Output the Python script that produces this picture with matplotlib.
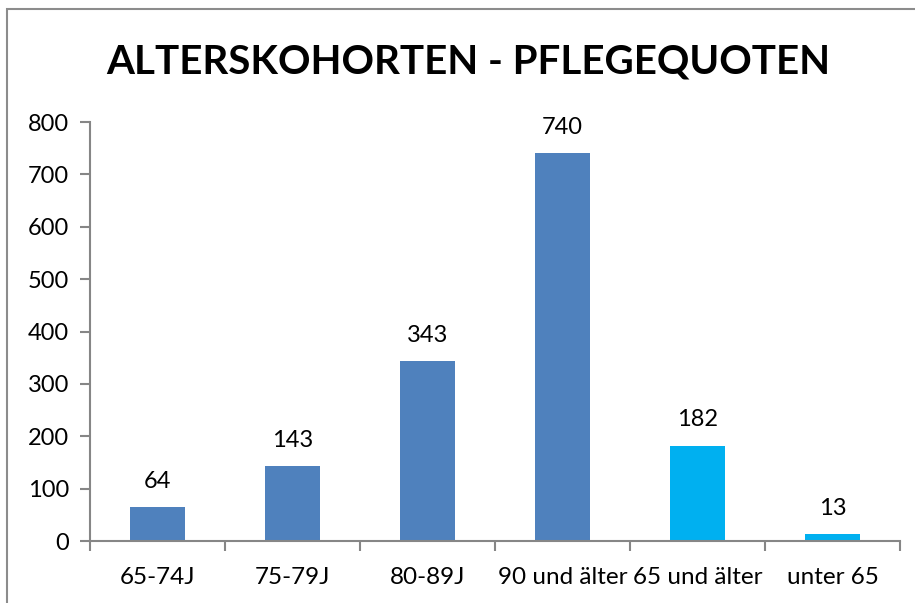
import matplotlib
matplotlib.use("Agg")
import matplotlib.pyplot as plt
from matplotlib.patches import Rectangle

categories = ["65-74J", "75-79J", "80-89J", "90 und älter", "65 und älter", "unter 65"]
values = [64, 143, 343, 740, 182, 13]
colors = ["#4F81BD", "#4F81BD", "#4F81BD", "#4F81BD", "#00B0F0", "#00B0F0"]
yticks = [0, 100, 200, 300, 400, 500, 600, 700, 800]
title = "ALTERSKOHORTEN - PFLEGEQUOTEN"

plt.rcParams['font.family'] = ['Lato', 'DejaVu Sans']
W, H = 915, 603
fig = plt.figure(figsize=(W/100, H/100), dpi=100)
fig.patches.append(Rectangle((7/W, -0.1), 1.2, 1 - 9/H + 0.1, transform=fig.transFigure,
                             fill=False, edgecolor="#8C8C8C", linewidth=1.5))

left, right, bottom, top = 90, 900, 541, 122
ax = fig.add_axes([left/W, 1 - bottom/H, (right-left)/W, (bottom-top)/H])
x = list(range(len(categories)))
ax.bar(x, values, width=0.41, color=colors)
for xi, v in zip(x, values):
    ax.annotate(str(v), (xi, v), xytext=(0, 11), textcoords="offset points",
                ha="center", va="bottom", fontsize=17)
ax.set_xlim(-0.5, len(categories) - 0.5)
ax.set_ylim(0, 800)
ax.set_yticks(yticks)
ax.set_yticklabels([str(t) for t in yticks], fontsize=17)
ax.set_xticks(x)
ax.set_xticklabels(categories, fontsize=17.5)
ax.tick_params(axis='x', length=0, pad=19)
ax.set_xticks([i - 0.5 for i in range(len(categories) + 1)], minor=True)
ax.tick_params(axis='x', which='minor', length=7, color="#868686", width=1.5)
ax.tick_params(axis='y', length=7, color="#868686", width=1.5, pad=8)
for s in ["top", "right"]:
    ax.spines[s].set_visible(False)
for s in ["left", "bottom"]:
    ax.spines[s].set_color("#868686")
    ax.spines[s].set_linewidth(1.5)
fig.text(468/W, 1 - 62/H, title, ha="center", va="center", fontsize=29, fontweight="bold")
fig.savefig("out.png", dpi=100)
